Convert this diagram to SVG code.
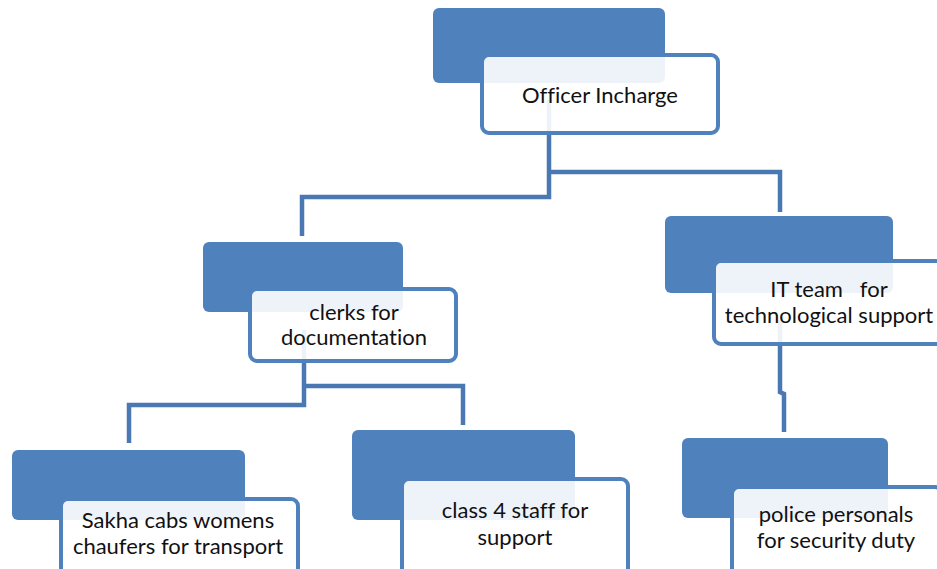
<svg xmlns="http://www.w3.org/2000/svg" width="937" height="569" viewBox="0 0 937 569">
<style>
.back{fill:#4f81bd}
.front{fill:#ffffff;fill-opacity:0.9;stroke:#4f81bd;stroke-width:4}
.lbl{font-family:Lato,"Open Sans","Liberation Sans",sans-serif;font-size:22px;fill:#111;text-anchor:middle;font-variant-ligatures:none;font-feature-settings:"liga" 0,"clig" 0}
.conn{fill:none;stroke:#4a78b2;stroke-width:4.5}
</style>
<rect width="937" height="569" fill="#ffffff"/>
<g id="back-rects">
<rect class="back" x="433" y="8" width="232" height="75" rx="6"/>
<rect class="back" x="203" y="242" width="200" height="70" rx="6"/>
<rect class="back" x="665" y="216" width="228" height="77" rx="6"/>
<rect class="back" x="12" y="450" width="233" height="70" rx="6"/>
<rect class="back" x="352" y="430" width="223" height="90" rx="6"/>
<rect class="back" x="682" y="438" width="206" height="80" rx="6"/>
</g>
<g id="connectors">
<polyline class="conn" points="549,100 549,197 302,197 302,236"/>
<polyline class="conn" points="549,172 780,172 780,212"/>
<polyline class="conn" points="304,330 304,405 129,405 129,443"/>
<polyline class="conn" points="304,386 463,386 463,425"/>
<polyline class="conn" points="780,320 780,392 784,394 784,432"/>
</g>
<g id="officer">
<rect class="front" x="482" y="55" width="236" height="78" rx="7"/>
<text class="lbl" x="600" y="103">Officer Incharge</text>
</g>
<g id="clerks">
<rect class="front" x="250" y="289" width="206" height="72" rx="7"/>
<text class="lbl" x="354" y="320">clerks for</text>
<text class="lbl" x="354" y="345">documentation</text>
</g>
<g id="it-team">
<rect class="front" x="714" y="261" width="230" height="83" rx="7"/>
<text class="lbl" x="829" y="297" xml:space="preserve">IT team   for</text>
<text class="lbl" x="829" y="323">technological support</text>
</g>
<g id="sakha">
<rect class="front" x="61" y="499" width="237" height="80" rx="7"/>
<text class="lbl" x="178" y="528">Sakha cabs womens</text>
<text class="lbl" x="178" y="554">chaufers for transport</text>
</g>
<g id="class4">
<rect class="front" x="402" y="479" width="226" height="100" rx="7"/>
<text class="lbl" x="515" y="518">class 4 staff for</text>
<text class="lbl" x="515" y="545">support</text>
</g>
<g id="police">
<rect class="front" x="732" y="487" width="210" height="90" rx="7"/>
<text class="lbl" x="836" y="522">police personals</text>
<text class="lbl" x="836" y="548">for security duty</text>
</g>
</svg>
